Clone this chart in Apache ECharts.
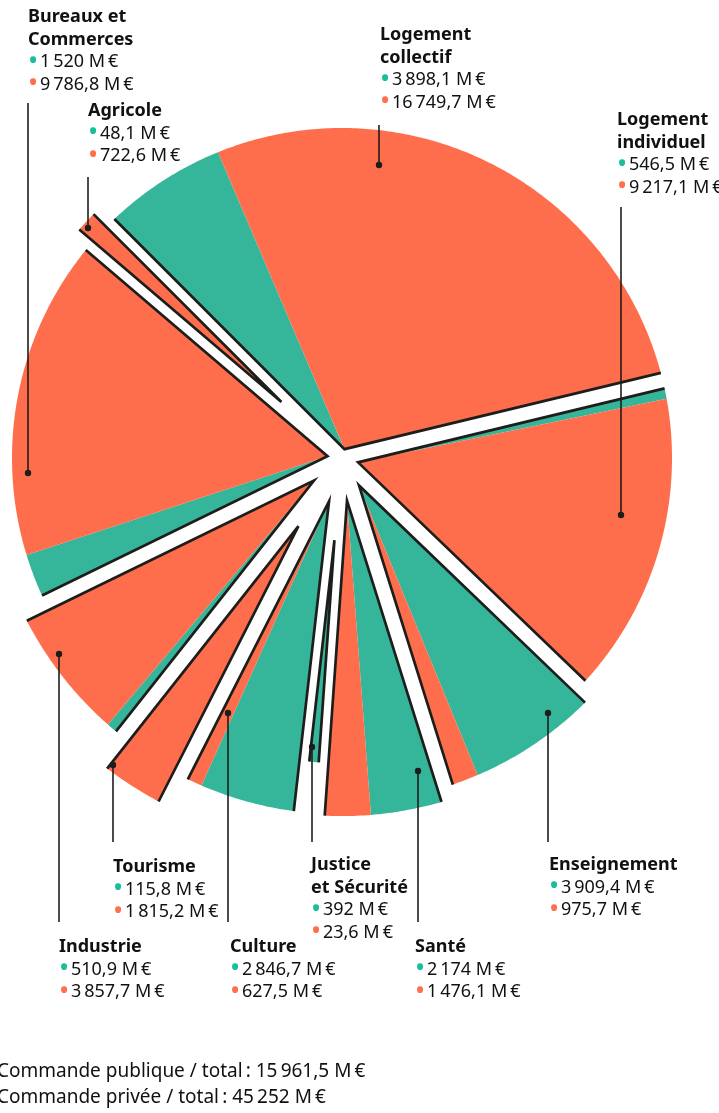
<!DOCTYPE html>
<html>
<head>
<meta charset="utf-8">
<script src="https://cdn.jsdelivr.net/npm/echarts@6/dist/echarts.min.js"></script>
<style>
  html, body { margin: 0; padding: 0; background: #fff; }
  #main { width: 719px; height: 1113px; }
</style>
</head>
<body>
<div id="main"></div>
<script>
// données, dans l'ordre des aiguilles d'une montre depuis le haut
var categories = ['Logement\ncollectif', 'Logement\nindividuel', 'Enseignement', 'Santé',
  'Justice\net Sécurité', 'Culture', 'Tourisme', 'Industrie', 'Bureaux et\nCommerces', 'Agricole'];
var publicValues = [3898.1, 546.5, 3909.4, 2174, 392, 2846.7, 115.8, 510.9, 1520, 48.1];
var privateValues = [16749.7, 9217.1, 975.7, 1476.1, 23.6, 627.5, 1815.2, 3857.7, 9786.8, 722.6];

// mise en page (pas des données)
var sliceReach = [1, 1, 1.045, 1.085, 0.925, 1.08, 1.18, 1.075, 1, 1.055];
// [x texte, haut texte, x trait, y point, y bout du trait]
var labelPos = [
  [380, 24, 379, 165, 125],
  [617, 109, 621, 515, 207],
  [549, 854, 548, 713, 842],
  [415, 936, 418, 771, 922],
  [311, 854, 312, 747, 842],
  [230, 936, 228, 713, 922],
  [113, 856, 113, 765, 842],
  [59, 936, 59, 654, 922],
  [28, 6, 28, 473, 103],
  [88, 100, 88, 228, 177]
];

var TEAL = '#35B59A', ORANGE = '#FE6E4C', INK = '#1d1d1b';
var GAP = 16;
var FONT = '"Noto Sans", sans-serif';

function sum(arr) {
  return arr.reduce(function (a, b) { return a + b }, 0)
}

function fr(v) {
  var r = Math.round(v * 10) / 10;
  var parts = (r % 1 === 0 ? r.toFixed(0) : r.toFixed(1)).split('.');
  var ent = parts[0].replace(/\B(?=(\d{3})+(?!\d))/g, '\u202f');
  return ent + (parts[1] ? ',' + parts[1] : '') + '\u00a0M\u202f€';
}

var total = sum(publicValues) + sum(privateValues);
var sliceData = [];
var acc = 0;
for (var i = 0; i < categories.length; i++) {
  sliceData.push([1, acc, publicValues[i], privateValues[i]]);
  acc += publicValues[i] + privateValues[i];
}

function renderSlice(params, api) {
  var cs = params.coordSys;
  var cx = cs.cx, cy = cs.cy;
  var k = params.dataIndex;
  var R = cs.r * sliceReach[k];
  var start = api.value(1), pub = api.value(2), priv = api.value(3);
  var ang = function (v) {
    var p = api.coord([1, v]);
    return Math.atan2(p[1] - cy, p[0] - cx);
  };
  var a0 = ang(start), am = ang(start + pub), a1 = ang(start + pub + priv);
  while (am < a0) am += 2 * Math.PI;
  while (a1 < am) a1 += 2 * Math.PI;

  // bords décalés pour garder un espace blanc de largeur constante
  var h = (a1 - a0) / 2, mid = a0 + h;
  var w = Math.min(GAP / 2, 0.25 * cs.r * Math.sin(h));
  var d = w / Math.sin(h);
  var P = [cx + d * Math.cos(mid), cy + d * Math.sin(mid)];
  var t = Math.sqrt(R * R - w * w) - d * Math.cos(h);
  var E0 = [P[0] + t * Math.cos(a0), P[1] + t * Math.sin(a0)];
  var E1 = [P[0] + t * Math.cos(a1), P[1] + t * Math.sin(a1)];
  var b0 = a0 + Math.asin(w / R), b1 = a1 - Math.asin(w / R);
  var sm = Math.max(b0, Math.min(b1, am));

  function arcPts(from, to) {
    var pts = [];
    var n = Math.max(1, Math.ceil((to - from) / 0.01));
    for (var j = 0; j <= n; j++) {
      var a = from + (to - from) * j / n;
      pts.push([cx + R * Math.cos(a), cy + R * Math.sin(a)]);
    }
    return pts;
  }

  return {
    type: 'group',
    children: [
      { type: 'polygon', shape: { points: [P].concat(arcPts(b0, sm)) }, style: { fill: TEAL } },
      { type: 'polygon', shape: { points: [P].concat(arcPts(sm, b1)) }, style: { fill: ORANGE } },
      {
        type: 'polyline', shape: { points: [E0, P, E1] },
        style: { stroke: INK, lineWidth: 2.7, fill: null, lineJoin: 'miter', miterLimit: 6 }
      }
    ]
  };
}

var graphics = [];
for (var i = 0; i < categories.length; i++) {
  var lp = labelPos[i];
  var lines = categories[i].split('\n').map(function (s) { return '{t|' + s + '}' });
  lines.push('{g|•}\u200a' + fr(publicValues[i]));
  lines.push('{o|•}\u200a' + fr(privateValues[i]));
  graphics.push({
    type: 'text', left: lp[0], top: lp[1], z: 10,
    style: {
      text: lines.join('\n'),
      fontFamily: FONT, fontSize: 18, lineHeight: 22.5, fill: '#111',
      rich: {
        t: { fontFamily: FONT, fontSize: 18, fontWeight: 'bold', lineHeight: 22.5, fill: '#111' },
        g: { fontFamily: FONT, fontSize: 27, lineHeight: 22.5, fill: '#19BF9C' },
        o: { fontFamily: FONT, fontSize: 27, lineHeight: 22.5, fill: '#FF6F4C' }
      }
    }
  });
  graphics.push({
    type: 'line', z: 10,
    shape: { x1: lp[2], y1: lp[3], x2: lp[2], y2: lp[4] },
    style: { stroke: INK, lineWidth: 1.6 }
  });
  graphics.push({
    type: 'circle', z: 11,
    shape: { cx: lp[2], cy: lp[3], r: 3.2 },
    style: { fill: INK }
  });
}

// totaux
graphics.push({
  type: 'text', left: -3, top: 1059, z: 10,
  style: {
    text: 'Commande publique / total\u202f: ' + fr(sum(publicValues)) + '\n' +
      'Commande privée / total\u202f: ' + fr(sum(privateValues)),
    fontFamily: FONT, fontSize: 19, lineHeight: 26, fill: '#111'
  }
});

var myChart = echarts.init(document.getElementById('main'));
var option = {
  backgroundColor: '#fff',
  animation: false,
  polar: { center: [342, 458], radius: 330 },
  angleAxis: { type: 'value', min: 0, max: total, startAngle: 135, clockwise: true, show: false },
  radiusAxis: { type: 'value', min: 0, max: 1, show: false },
  series: [{
    type: 'custom',
    coordinateSystem: 'polar',
    encode: { radius: 0, angle: 1 },
    silent: true,
    renderItem: renderSlice,
    data: sliceData
  }],
  graphic: graphics
};
myChart.setOption(option);
</script>
</body>
</html>
